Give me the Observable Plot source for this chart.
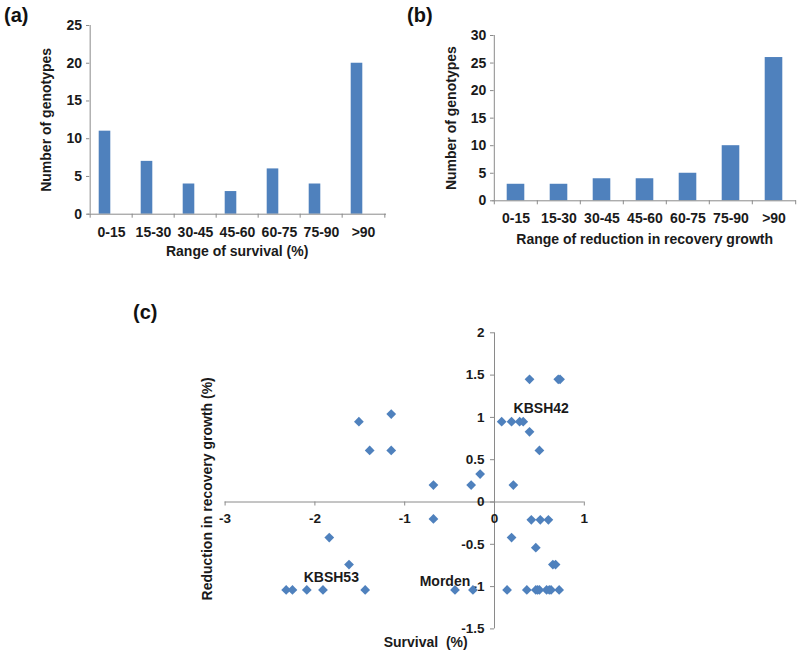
<!DOCTYPE html>
<html><head><meta charset="utf-8">
<script src="https://cdn.jsdelivr.net/npm/d3@7"></script>
<script src="https://cdn.jsdelivr.net/npm/@observablehq/plot@0.6"></script>
<style>
body{margin:0;background:#fff;}
#wrap{position:relative;width:800px;height:653px;overflow:hidden;background:#fff;}
.panel{position:absolute;}
.tag{position:absolute;font:bold 20px "Liberation Sans",Arial,sans-serif;color:#111;line-height:20px;}
</style></head><body><div id="wrap"></div>
<script>
// ---- data ----
const ranges = ["0-15", "15-30", "30-45", "45-60", "60-75", "75-90", ">90"];
const survivalCounts = [11, 7, 4, 3, 6, 4, 20];
const reductionCounts = [3, 3, 4, 4, 5, 10, 26];
const countTicksA = [0, 5, 10, 15, 20, 25];
const countTicksB = [0, 5, 10, 15, 20, 25, 30];

const survival = [-1.51, -1.15, -1.39, -1.15, -0.68, -0.26, -0.16, -0.68, -1.84, -1.62,
  -2.32, -2.25, -2.09, -1.91, -1.44, -0.44, -0.24,
  0.39, 0.71, 0.73, 0.08, 0.19, 0.28, 0.32, 0.39, 0.50, 0.21, 0.41, 0.51, 0.60, 0.19, 0.46,
  0.65, 0.68, 0.14, 0.36, 0.46, 0.48, 0.50, 0.58, 0.61, 0.63, 0.72];
const reduction = [0.95, 1.04, 0.61, 0.61, 0.20, 0.20, 0.33, -0.20, -0.42, -0.74,
  -1.04, -1.04, -1.04, -1.04, -1.04, -1.04, -1.04,
  1.45, 1.45, 1.45, 0.95, 0.95, 0.95, 0.95, 0.83, 0.61, 0.20, -0.21, -0.21, -0.21, -0.42, -0.54,
  -0.74, -0.74, -1.04, -1.04, -1.04, -1.04, -1.04, -1.04, -1.04, -1.04, -1.04];

const xTicks = [-3, -2, -1, 0, 1];
const xTickLabels = ["-3", "-2", "-1", "0", "1"];
const yTicks = [-1.5, -1, -0.5, 0, 0.5, 1, 1.5, 2];
const yTickLabels = ["-1.5", "-1", "-0.5", "0", "0.5", "1", "1.5", "2"];

// genotype labels and the point each one names
const labelNames = ["KBSH42", "KBSH53", "Morden"];
const labelSurvival = [0.32, -2.09, -0.44];
const labelReduction = [0.95, -1.04, -1.04];

// ---- styles ----
const FONT = '"Liberation Sans", Arial, sans-serif';
const BLUE = "#4F81BD";
const AXIS = "#8A8A8A";
const TEXT = "#1a1a1a";

const wrap = document.getElementById("wrap");
function place(node, left, top) {
  node.classList.add("panel");
  node.style.left = left + "px";
  node.style.top = top + "px";
  wrap.appendChild(node);
}
function tag(text, left, top) {
  const d = document.createElement("div");
  d.className = "tag"; d.textContent = text;
  d.style.left = left + "px"; d.style.top = top + "px";
  wrap.appendChild(d);
}

function barPanel({counts, ticks, yMax, width, height, ml, mr, mt, mb, insetL, insetR, xTitle, xTickDy, xTitleDy, yTitleDx}) {
  const data = ranges.map((r, i) => ({range: r, count: counts[i]}));
  const bw = (width - ml - mr) / ranges.length;
  return Plot.plot({
    width, height, marginLeft: ml, marginRight: mr, marginTop: mt, marginBottom: mb,
    style: {fontFamily: FONT, fontSize: "14px", fontWeight: "bold", color: TEXT, background: "transparent", overflow: "visible"},
    x: {type: "band", domain: ranges, padding: 0, axis: null},
    y: {domain: [0, yMax], axis: null},
    marks: [
      Plot.barY(data, {x: "range", y: "count", fill: BLUE, insetLeft: insetL, insetRight: insetR}),
      Plot.ruleY([0], {stroke: AXIS}),
      Plot.ruleX([ranges[0]], {y1: 0, y2: yMax, dx: -bw / 2, stroke: AXIS}),
      Plot.ruleX(ranges, {y1: 0, y2: 0, insetBottom: -4, dx: -bw / 2, stroke: AXIS}),
      Plot.ruleX([ranges[ranges.length - 1]], {y1: 0, y2: 0, insetBottom: -4, dx: bw / 2, stroke: AXIS}),
      Plot.ruleY(ticks, {x1: () => ranges[0], x2: () => ranges[0], insetLeft: -4, insetRight: bw, stroke: AXIS}),
      Plot.text(ticks, {x: () => ranges[0], y: d => d, text: d => String(d), dx: -bw / 2 - 8, textAnchor: "end", fill: TEXT}),
      Plot.text(ranges, {x: d => d, y: () => 0, text: d => d, dy: xTickDy, fill: TEXT}),
      Plot.text([xTitle], {text: d => d, frameAnchor: "bottom", lineAnchor: "middle", textAnchor: "middle", dy: xTitleDy, fontSize: 14, fill: TEXT}),
      Plot.text(["Number of genotypes"], {text: d => d, frameAnchor: "left", rotate: -90, lineAnchor: "middle", textAnchor: "middle", dx: yTitleDx, fontSize: 14, fill: TEXT})
    ]
  });
}

const a = barPanel({counts: survivalCounts, ticks: countTicksA, yMax: 25, width: 400, height: 260,
  ml: 87.3, mr: 14, mt: 25, mb: 46.3, insetL: 8.7, insetR: 21.7,
  xTitle: "Range of survival (%)", xTickDy: 18, xTitleDy: 37, yTitleDx: -41});
place(a, 0, 0);

const b = barPanel({counts: reductionCounts, ticks: countTicksB, yMax: 30, width: 400, height: 250,
  ml: 92.3, mr: 4, mt: 35, mb: 49.7, insetL: 12.7, insetR: 12.7,
  xTitle: "Range of reduction in recovery growth", xTickDy: 18, xTitleDy: 38.5, yTitleDx: -41});
place(b, 400, 0);

const points = survival.map((s, i) => ({survival: s, reduction: reduction[i]}));
const labelMarks = [
  {dx: 18, dy: -13},
  {dx: 24.5, dy: -12},
  {dx: -10, dy: -8.5}
].map((o, i) => Plot.text([labelNames[i]], {x: () => labelSurvival[i], y: () => labelReduction[i], text: d => d,
  dx: o.dx, dy: o.dy, fontSize: 14, fill: TEXT}));

const c = Plot.plot({
  width: 800, height: 363, marginLeft: 224.6, marginRight: 216.2, marginTop: 42.3, marginBottom: 24.6,
  style: {fontFamily: FONT, fontSize: "13.5px", fontWeight: "bold", color: TEXT, background: "transparent", overflow: "visible"},
  x: {domain: [-3, 1], axis: null},
  y: {domain: [-1.5, 2], axis: null},
  marks: [
    Plot.ruleY([0], {x1: -3, x2: 1, stroke: AXIS}),
    Plot.ruleX([0], {y1: -1.5, y2: 2, stroke: AXIS}),
    Plot.ruleX(xTicks, {y1: 0, y2: 0, insetBottom: -4, stroke: AXIS}),
    Plot.ruleY(yTicks, {x1: 0, x2: 0, insetLeft: -4, stroke: AXIS}),
    Plot.text(xTicks, {x: d => d, y: () => 0, text: (d, i) => xTickLabels[i], dy: 17, fill: TEXT}),
    Plot.text(yTicks, {x: () => 0, y: d => d, text: (d, i) => yTickLabels[i], dx: -10, textAnchor: "end", fill: TEXT}),
    Plot.dot(points, {x: "survival", y: "reduction", symbol: "diamond2", r: 4.4, fill: BLUE}),
    ...labelMarks,
    Plot.text(["Reduction in recovery growth (%)"], {text: d => d, frameAnchor: "left", rotate: -90, lineAnchor: "middle", textAnchor: "middle", dx: -17.6, dy: 8, fontSize: 14, fill: TEXT}),
    Plot.text(["Survival\u00a0\u00a0(%)"], {text: d => d, frameAnchor: "bottom", lineAnchor: "middle", textAnchor: "middle", dx: 21, dy: 14, fontSize: 14, fill: TEXT})
  ]
});
place(c, 0, 290);

tag("(a)", 4, 5);
tag("(b)", 407, 5);
tag("(c)", 133, 302);
</script></body></html>
